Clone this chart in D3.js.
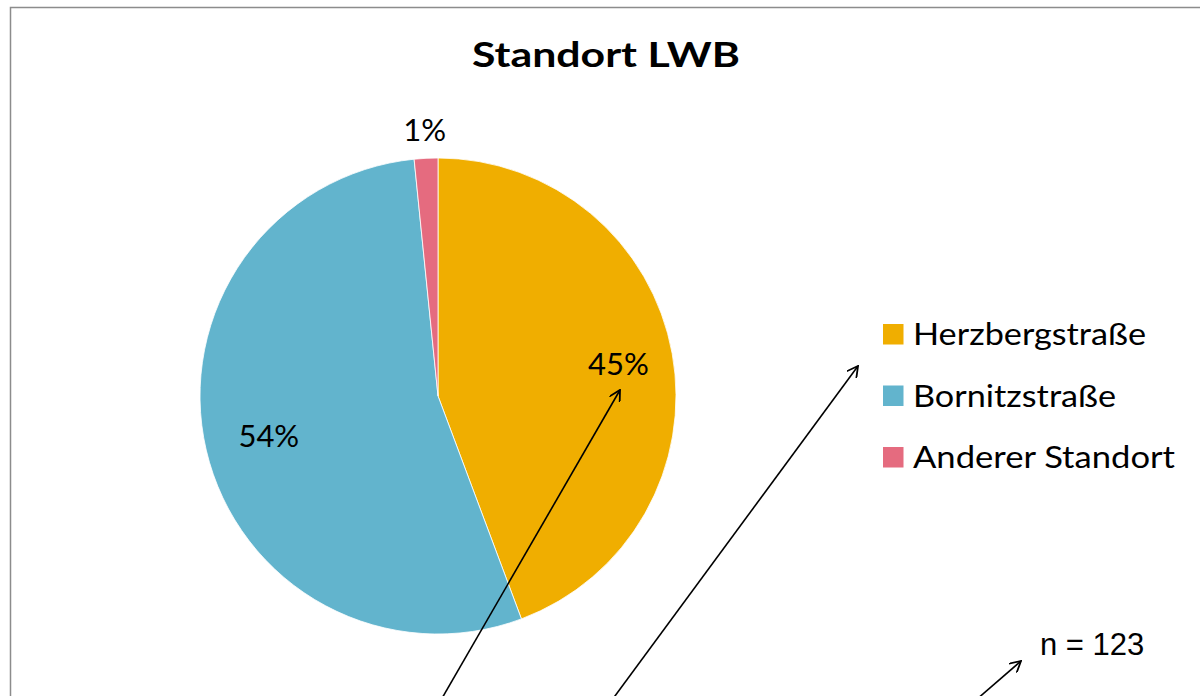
<!DOCTYPE html>
<html>
<head>
<meta charset="utf-8">
<script src="https://cdn.jsdelivr.net/npm/d3@7"></script>
<style>
  body { margin: 0; background: #fff; }
  svg { display: block; }
</style>
</head>
<body>
<svg id="chart"></svg>
<script>
// data (n = 123)
const categories = ['Herzbergstraße', 'Bornitzstraße', 'Anderer Standort'];
const shares = [44.3, 54.1, 1.6];
const shareLabels = ['45%', '54%', '1%'];
const colors = ['#F0AE00', '#62B4CD', '#E56B7F'];
const sampleSize = 123;

const width = 1200, height = 696;
const font = 'Lato, "Open Sans", sans-serif';

const svg = d3.select('#chart')
  .attr('width', width)
  .attr('height', height);

// chart frame
svg.append('rect')
  .attr('x', 10.5).attr('y', 7.5)
  .attr('width', 1300).attr('height', 800)
  .attr('fill', 'none')
  .attr('stroke', '#8c8c8c')
  .attr('stroke-width', 1.5);

svg.append('text')
  .attr('x', 472).attr('y', 67)
  .attr('textLength', 268)
  .attr('lengthAdjust', 'spacingAndGlyphs')
  .style('font-family', font)
  .style('font-weight', 'bold')
  .style('font-size', '35px')
  .text('Standort LWB');

const cx = 438, cy = 396, r = 238;

const pie = d3.pie().sort(null).value(d => d);
const arcs = pie(shares);
const arc = d3.arc().innerRadius(0).outerRadius(r);

const g = svg.append('g').attr('transform', `translate(${cx},${cy})`);

g.selectAll('path')
  .data(arcs)
  .enter()
  .append('path')
  .attr('d', arc)
  .attr('fill', (d, i) => colors[i])
  .attr('stroke', '#fff')
  .attr('stroke-width', 0.8);

// label positions (radius fraction per slice, as in the picture)
const labelRadius = [0.77, 0.73, 1.12];
g.selectAll('.lbl')
  .data(arcs)
  .enter()
  .append('text')
  .attr('class', 'lbl')
  .attr('transform', (d, i) => {
    const c = d3.arc().innerRadius(r * labelRadius[i]).outerRadius(r * labelRadius[i]).centroid(d);
    return `translate(${c[0]},${c[1]})`;
  })
  .attr('text-anchor', 'middle')
  .attr('dy', '0.36em')
  .style('font-family', font)
  .style('font-size', '31px')
  .text((d, i) => shareLabels[i]);

// legend
const legendWidths = [233, 203, 262];
const legend = svg.append('g').attr('transform', 'translate(883,324)');
const rows = legend.selectAll('g')
  .data(categories)
  .enter()
  .append('g')
  .attr('transform', (d, i) => `translate(0,${i * 61.5})`);

rows.append('rect')
  .attr('width', 20.5).attr('height', 20.5)
  .attr('fill', (d, i) => colors[i]);

rows.append('text')
  .attr('x', 30).attr('y', 21)
  .attr('textLength', (d, i) => legendWidths[i])
  .attr('lengthAdjust', 'spacingAndGlyphs')
  .style('font-family', font)
  .style('font-size', '30px')
  .text(d => d);

svg.append('text')
  .attr('x', 1040).attr('y', 655)
  .style('font-family', '"Liberation Sans", Arial, sans-serif')
  .style('font-size', '31px')
  .text(`n = ${sampleSize}`);

// hand-drawn arrows on top of the chart
svg.append('defs').append('marker')
  .attr('id', 'arrow')
  .attr('viewBox', '0 0 12 12')
  .attr('refX', 11).attr('refY', 6)
  .attr('markerWidth', 12).attr('markerHeight', 12)
  .attr('markerUnits', 'userSpaceOnUse')
  .attr('orient', 'auto')
  .append('path')
  .attr('d', 'M0,0 L11,6 L0,12')
  .attr('fill', 'none')
  .attr('stroke', '#000')
  .attr('stroke-width', 1.8);

const arrows = [
  [[441, 700], [620, 390]],
  [[612, 700], [858, 366]],
  [[976, 700], [1021, 661]]
];

svg.selectAll('.arrow')
  .data(arrows)
  .enter()
  .append('line')
  .attr('x1', d => d[0][0]).attr('y1', d => d[0][1])
  .attr('x2', d => d[1][0]).attr('y2', d => d[1][1])
  .attr('stroke', '#000')
  .attr('stroke-width', 1.6)
  .attr('marker-end', 'url(#arrow)');
</script>
</body>
</html>
